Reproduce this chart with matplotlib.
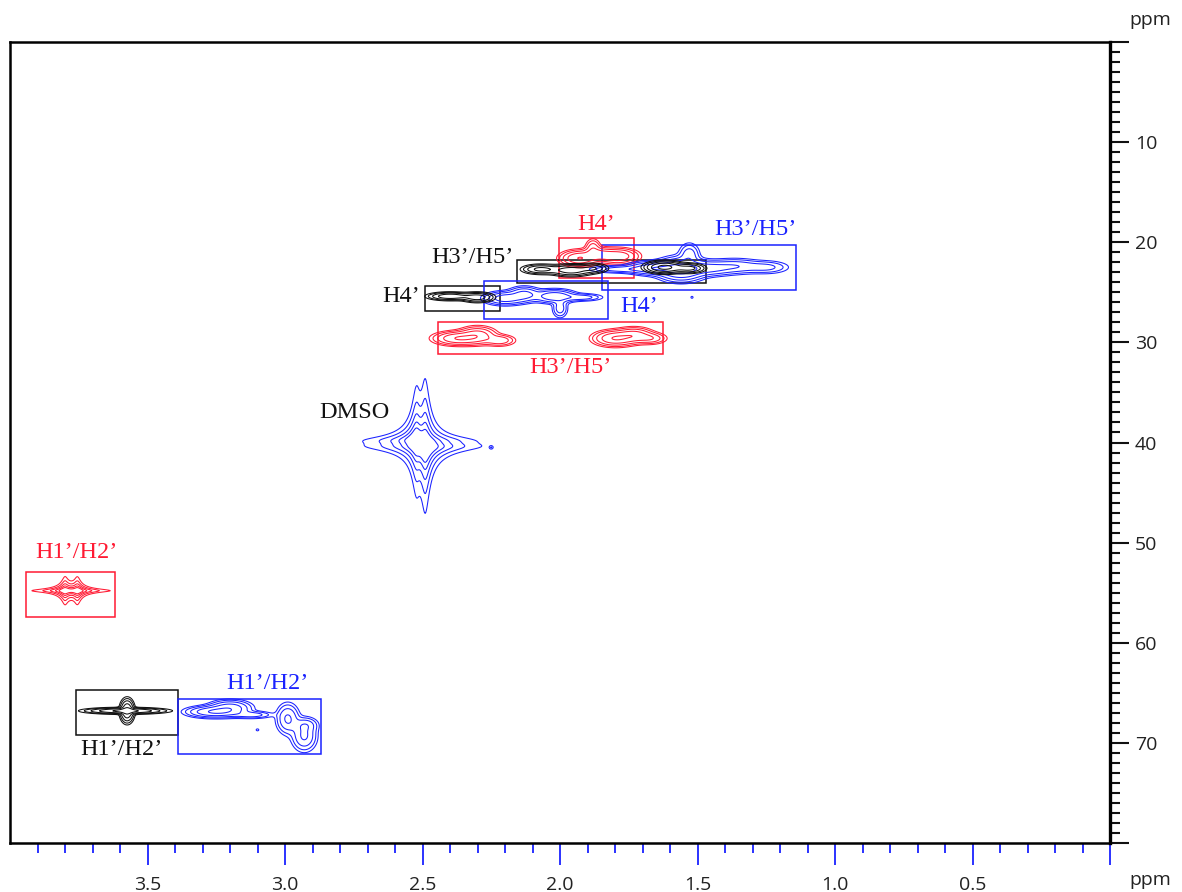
import numpy as np
import matplotlib
matplotlib.use("Agg")
import matplotlib.pyplot as plt
from matplotlib.patches import Rectangle

# ---------------- data ----------------
# peak lists per colour: x (ppm, 1H), y (ppm, 13C), widths, amplitude, kind (0=Lorentz, 1=Gauss)
red_x  = [1.93, 1.86, 1.79, 1.88, 2.37, 2.30, 2.22, 1.80, 1.73, 1.67, 3.80, 3.755, 3.78]
red_y  = [21.6, 21.2, 21.4, 20.6, 29.6, 29.3, 29.8, 29.6, 29.3, 29.6, 54.8, 54.8, 54.8]
red_wx = [0.035, 0.030, 0.038, 0.015, 0.045, 0.035, 0.030, 0.040, 0.035, 0.030, 0.011, 0.011, 0.025]
red_wy = [0.40, 0.35, 0.40, 0.50, 0.35, 0.45, 0.30, 0.40, 0.40, 0.30, 0.17, 0.17, 0.20]
red_a  = [0.8, 0.5, 0.7, 0.3, 0.8, 0.6, 0.35, 0.8, 0.6, 0.35, 3.0, 3.0, 0.4]
red_k  = [1, 1, 1, 1, 1, 1, 1, 1, 1, 1, 0, 0, 0]

blue_x  = [1.78, 1.66, 1.56, 1.46, 1.36, 1.25, 1.53, 1.52,
           2.20, 2.13, 2.02, 1.92, 2.00,
           2.522, 2.490, 2.25,
           3.26, 3.20, 3.12, 2.990, 2.930, 2.925, 3.10]
blue_y  = [22.7, 22.6, 22.7, 22.6, 22.4, 22.5, 21.2, 25.5,
           25.6, 25.2, 25.4, 25.5, 26.6,
           39.8, 40.4, 40.5,
           66.9, 66.5, 67.2, 67.6, 69.3, 68.2, 68.7]
blue_wx = [0.060, 0.050, 0.045, 0.050, 0.050, 0.045, 0.020, 0.004,
           0.040, 0.030, 0.040, 0.040, 0.015,
           0.014, 0.014, 0.004,
           0.050, 0.040, 0.040, 0.022, 0.024, 0.025, 0.005]
blue_wy = [0.20, 0.35, 0.60, 0.40, 0.40, 0.35, 0.60, 0.10,
           0.35, 0.40, 0.35, 0.20, 0.50,
           0.42, 0.48, 0.10,
           0.30, 0.40, 0.20, 0.80, 0.80, 0.40, 0.10]
blue_a  = [0.30, 0.70, 1.00, 0.50, 0.35, 0.25, 0.30, 0.08,
           0.60, 0.50, 0.70, 0.30, 0.30,
           7.0, 9.0, 0.08,
           0.80, 0.60, 0.30, 0.45, 0.45, 0.25, 0.08]
blue_k  = [1, 1, 1, 1, 1, 1, 1, 1,
           1, 1, 1, 1, 1,
           0, 0, 1,
           1, 1, 1, 1, 1, 1, 1]

black_x  = [2.07, 1.96, 1.88, 1.62, 1.53, 2.40, 2.30, 3.58, 3.574]
black_y  = [22.7, 22.8, 22.6, 22.5, 22.6, 25.4, 25.5, 66.8, 66.8]
black_wx = [0.035, 0.040, 0.028, 0.035, 0.030, 0.040, 0.030, 0.070, 0.013]
black_wy = [0.25, 0.30, 0.25, 0.30, 0.25, 0.20, 0.25, 0.15, 0.60]
black_a  = [0.5, 0.6, 0.4, 1.0, 0.5, 0.7, 0.6, 1.0, 0.8]
black_k  = [1, 1, 1, 1, 1, 1, 1, 1, 1]

# annotation boxes: x0, x1 (ppm 1H), y0, y1 (ppm 13C), colour key
box_x0 = [2.005, 1.849, 2.155, 2.490, 2.278, 2.442, 3.942, 3.760, 3.389]
box_x1 = [1.732, 1.143, 1.470, 2.217, 1.827, 1.627, 3.618, 3.389, 2.868]
box_y0 = [19.55, 20.25, 21.74, 24.40, 23.90, 28.00, 52.90, 64.70, 65.60]
box_y1 = [23.53, 24.72, 24.03, 26.90, 27.70, 31.20, 57.40, 69.20, 71.10]
box_c  = ["red", "blue", "black", "black", "blue", "red", "red", "black", "blue"]

# labels
lab_text = ["H4\u2019", "H3\u2019/H5\u2019", "H3\u2019/H5\u2019", "H4\u2019", "H4\u2019",
            "H3\u2019/H5\u2019", "DMSO", "H1\u2019/H2\u2019", "H1\u2019/H2\u2019", "H1\u2019/H2\u2019"]
lab_x = [1.870, 1.290, 2.320, 2.577, 1.711, 1.962, 2.748, 3.760, 3.596, 3.065]
lab_y = [18.20, 18.70, 21.50, 25.40, 26.40, 32.50, 37.00, 51.00, 70.70, 64.10]
lab_c = ["red", "blue", "black", "black", "blue", "red", "black", "red", "black", "blue"]

x_ticks = [3.5, 3.0, 2.5, 2.0, 1.5, 1.0, 0.5]
y_ticks = [10, 20, 30, 40, 50, 60, 70]

COL = {"red": "#ff1a33", "blue": "#1a22ff", "black": "#111111"}

# ---------------- figure ----------------
fig = plt.figure(figsize=(11.82, 8.92), dpi=100)
ax = fig.add_axes([10 / 1182, 1 - 843 / 892, 1100 / 1182, 801 / 892])

xg = np.linspace(4.0, 0.0, 1800)
yg = np.linspace(0.0, 80.0, 1500)


def field(px, py, wx, wy, amp, kind):
    Z = np.zeros((yg.size, xg.size))
    for x0, y0, sx, sy, a, k in zip(px, py, wx, wy, amp, kind):
        u = (xg - x0) / sx
        v = (yg - y0) / sy
        if k == 0:
            gx = 1.0 / (1.0 + u ** 2)
            gy = 1.0 / (1.0 + v ** 2)
        else:
            gx = np.exp(-0.5 * u ** 2)
            gy = np.exp(-0.5 * v ** 2)
        Z += a * np.outer(gy, gx)
    return Z


levels = [0.05, 0.1, 0.2, 0.4, 0.8]
for key, data in [("red", (red_x, red_y, red_wx, red_wy, red_a, red_k)),
                  ("blue", (blue_x, blue_y, blue_wx, blue_wy, blue_a, blue_k)),
                  ("black", (black_x, black_y, black_wx, black_wy, black_a, black_k))]:
    Z = field(*data)
    ax.contour(xg, yg, Z, levels=levels, colors=COL[key], linewidths=0.75)

for x0, x1, y0, y1, c in zip(box_x0, box_x1, box_y0, box_y1, box_c):
    ax.add_patch(Rectangle((min(x0, x1), min(y0, y1)), abs(x1 - x0), abs(y1 - y0),
                           fill=False, edgecolor=COL[c], linewidth=1.1))

for t, x, y, c in zip(lab_text, lab_x, lab_y, lab_c):
    ax.text(x, y, t, color=COL[c], ha="center", va="center",
            family="Liberation Serif", fontsize=17.5)

ax.set_xlim(4.0, 0.0)
ax.set_ylim(80, 0)

# spines
for s in ["left", "bottom", "top"]:
    ax.spines[s].set_linewidth(1.8)
ax.spines["right"].set_linewidth(2.4)

# x axis ticks
ax.xaxis.set_ticks_position("bottom")
ax.set_xticks(x_ticks + [0.0])
ax.set_xticklabels([f"{v:.1f}" for v in x_ticks] + [""])
ax.set_xticks(np.round(np.arange(0.1, 4.0, 0.1), 2), minor=True)
ax.tick_params(axis="x", which="major", direction="out", length=16, width=1.3,
               color=COL["blue"], pad=8, labelsize=14, labelcolor="#222222")
ax.tick_params(axis="x", which="minor", direction="out", length=7, width=1.3,
               color=COL["blue"])
for t in ax.xaxis.get_major_ticks():
    if t.get_loc() < 0.05:
        t.tick1line.set_color("#111111")
for t in ax.xaxis.get_minor_ticks():
    if t.get_loc() < 0.45:
        t.tick1line.set_color("#111111")

# y axis ticks on right
ax.yaxis.set_ticks_position("right")
ax.set_yticks([0] + y_ticks + [80])
ax.set_yticklabels([""] + [str(v) for v in y_ticks] + [""])
ax.set_yticks(np.arange(1, 80, 1), minor=True)
ax.tick_params(axis="y", which="major", direction="out", length=14, width=1.5,
               color="#111111", pad=4, labelsize=14, labelcolor="#222222")
ax.tick_params(axis="y", which="minor", direction="out", length=7, width=1.5,
               color="#111111")

for lab in ax.get_xticklabels() + ax.get_yticklabels():
    lab.set_family("Open Sans")

fig.text(1150 / 1182, 1 - 20 / 892, "ppm", ha="center", va="center",
         family="Open Sans", fontsize=14, color="#222222")
fig.text(1150 / 1182, 1 - 880 / 892, "ppm", ha="center", va="center",
         family="Open Sans", fontsize=14, color="#222222")

fig.savefig("out.png", dpi=100)
